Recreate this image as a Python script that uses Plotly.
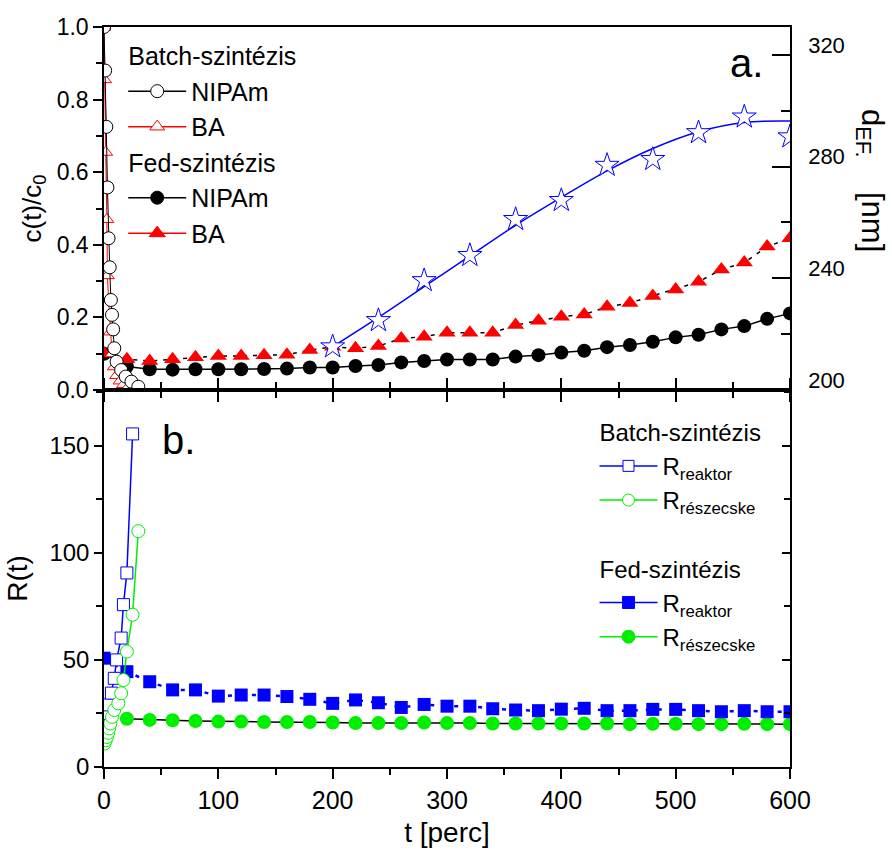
import plotly.graph_objects as go

# ---------------- top panel data ----------------
t_batch_nipam = [0, 1, 2, 3, 4, 5, 6, 7, 8, 9, 11, 15, 19, 24, 30]
c_batch_nipam = [1.0, 0.88, 0.725, 0.558, 0.418, 0.338, 0.248, 0.207, 0.167, 0.115, 0.078, 0.055, 0.037, 0.023, 0.009]

t_batch_ba = [0, 0.5, 1.5, 2.5, 3, 4, 5.5, 7, 9, 11, 14, 17, 21, 26, 31]
c_batch_ba = [1.0, 0.855, 0.655, 0.47, 0.315, 0.25, 0.16, 0.10, 0.064, 0.04, 0.025, 0.015, 0.008, 0.004, 0.0]

t_fed = [0, 20, 40, 60, 80, 100, 120, 140, 160, 180, 200, 220, 240, 260, 280, 300,
         320, 340, 360, 380, 400, 420, 440, 460, 480, 500, 520, 540, 560, 580, 600]
c_fed_nipam = [0.10, 0.065, 0.057, 0.056, 0.057, 0.057, 0.057, 0.058, 0.059, 0.062, 0.062,
               0.066, 0.069, 0.076, 0.080, 0.084, 0.084, 0.084, 0.092, 0.096, 0.103,
               0.108, 0.118, 0.124, 0.133, 0.145, 0.152, 0.167, 0.176, 0.196, 0.211]
c_fed_ba = [0.101, 0.085, 0.080, 0.085, 0.090, 0.094, 0.094, 0.096, 0.097, 0.110, 0.119,
            0.115, 0.121, 0.142, 0.147, 0.158, 0.158, 0.158, 0.179, 0.191, 0.202,
            0.208, 0.229, 0.240, 0.259, 0.277, 0.298, 0.332, 0.351, 0.395, 0.418]

t_def = [200, 240, 280, 320, 360, 400, 440, 480, 520, 560, 600]
d_ef = [215.5, 224.9, 239.2, 248.2, 261.1, 267.9, 280.5, 282.6, 292.2, 297.8, 290.7]
t_def_fit = [200, 240, 280, 320, 360, 400, 440, 480, 520, 560, 600]
d_ef_fit = [215.5, 226.0, 237.0, 248.0, 259.0, 269.0, 278.5, 286.5, 292.5, 295.8, 296.3]

# ---------------- bottom panel data ----------------
t_batch_reaktor = [0, 1, 2.5, 4, 6.5, 9, 11, 15, 17, 20, 25]
r_batch_reaktor = [18, 22, 25, 29, 34.5, 41.4, 50, 60.2, 75.8, 90.6, 155.5]

t_batch_reszecske = [0.5, 1.5, 2.5, 3.5, 4.5, 5.5, 7, 9, 12.5, 15, 17, 20, 25, 30]
r_batch_reszecske = [11, 12.5, 14, 16, 18, 20.3, 23.4, 26.6, 29.7, 34.4, 40.6, 53.9, 71.1, 110.1]

t_fed_reaktor = t_fed
r_fed_reaktor = [50.8, 44.5, 39.8, 36.0, 36.0, 33.1, 33.6, 33.6, 32.9, 31.6, 29.7, 31.3, 30.0,
                 27.8, 29.2, 28.4, 28.4, 27.2, 26.6, 26.3, 27.0, 27.4, 26.3, 26.3, 26.9,
                 26.9, 26.3, 25.8, 26.3, 25.8, 25.8]

t_fed_reszecske = t_fed[1:]
r_fed_reszecske = [22.5, 22.0, 21.8, 21.5, 21.2, 21.2, 21.0, 21.0, 21.0, 20.8, 20.5, 20.5,
                   20.5, 20.8, 20.5, 20.5, 20.3, 20.3, 20.3, 20.3, 20.3, 20.3, 20.0, 20.2,
                   20.2, 20.0, 20.0, 20.2, 20.0, 20.0]

# ---------------- style ----------------
FONT = "Liberation Sans, Arial, sans-serif"
BLUE = "#0000ff"
RED = "#ff0000"
GREEN = "#00ee00"
BLACK = "#000000"

fig = go.Figure()

# top panel traces
fig.add_trace(go.Scatter(x=t_fed, y=c_fed_nipam, mode="lines+markers", showlegend=False,
                         line=dict(color=BLACK, width=1.5),
                         marker=dict(symbol="circle", size=14, color=BLACK),
                         xaxis="x", yaxis="y"))
fig.add_trace(go.Scatter(x=t_fed, y=c_fed_ba, mode="lines+markers", showlegend=False,
                         line=dict(color=BLACK, width=1.5, dash="4px,6px"),
                         marker=dict(symbol="triangle-up", size=15, color=RED),
                         xaxis="x", yaxis="y"))
fig.add_trace(go.Scatter(x=t_batch_ba, y=c_batch_ba, mode="lines+markers", showlegend=False,
                         line=dict(color=RED, width=1),
                         marker=dict(symbol="triangle-up", size=12, color="white",
                                     line=dict(color=RED, width=1)),
                         xaxis="x", yaxis="y"))
fig.add_trace(go.Scatter(x=t_batch_nipam, y=c_batch_nipam, mode="lines+markers", showlegend=False,
                         line=dict(color=BLACK, width=1),
                         marker=dict(symbol="circle", size=13, color="white",
                                     line=dict(color=BLACK, width=1)),
                         xaxis="x", yaxis="y"))
fig.add_trace(go.Scatter(x=t_def_fit, y=d_ef_fit, mode="lines", showlegend=False,
                         line=dict(color=BLUE, width=1.5, shape="spline"),
                         xaxis="x", yaxis="y2"))
fig.add_trace(go.Scatter(x=t_def, y=d_ef, mode="markers", showlegend=False,
                         marker=dict(symbol="star", size=18, color="white",
                                     line=dict(color=BLUE, width=1)),
                         xaxis="x", yaxis="y2"))

# bottom panel traces
fig.add_trace(go.Scatter(x=t_fed_reszecske, y=r_fed_reszecske, mode="lines+markers", showlegend=False,
                         line=dict(color=BLACK, width=1.5),
                         marker=dict(symbol="circle", size=14, color=GREEN),
                         xaxis="x2", yaxis="y3"))
fig.add_trace(go.Scatter(x=t_fed_reaktor, y=r_fed_reaktor, mode="lines+markers", showlegend=False,
                         line=dict(color=BLUE, width=2.5, dash="4px,8px"),
                         marker=dict(symbol="square", size=13, color=BLUE),
                         xaxis="x2", yaxis="y3"))
fig.add_trace(go.Scatter(x=t_batch_reaktor, y=r_batch_reaktor, mode="lines+markers", showlegend=False,
                         line=dict(color=BLUE, width=1.5),
                         marker=dict(symbol="square", size=12, color="white",
                                     line=dict(color=BLUE, width=1)),
                         xaxis="x2", yaxis="y3"))
fig.add_trace(go.Scatter(x=t_batch_reszecske, y=r_batch_reszecske, mode="lines+markers", showlegend=False,
                         line=dict(color=GREEN, width=1.5),
                         marker=dict(symbol="circle", size=13, color="white",
                                     line=dict(color=GREEN, width=1)),
                         xaxis="x2", yaxis="y3"))

# legend proxies
def proxy(name, color, symbol, fill, group, gtitle, legend, xa, ya, fsize):
    fig.add_trace(go.Scatter(
        x=[None], y=[None], mode="lines+markers", name=name,
        line=dict(color=color, width=1.5),
        marker=dict(symbol=symbol, size=fsize, color=fill, line=dict(color=color, width=1)),
        legendgroup=group, legendgrouptitle=dict(text=gtitle),
        legend=legend, xaxis=xa, yaxis=ya))

proxy("NIPAm", BLACK, "circle", "white", "b", "Batch-szintézis", "legend", "x", "y", 13)
proxy("BA", RED, "triangle-up", "white", "b", "Batch-szintézis", "legend", "x", "y", 13)
proxy("NIPAm", BLACK, "circle", BLACK, "f", "Fed-szintézis", "legend", "x", "y", 13)
proxy("BA", RED, "triangle-up", RED, "f", "Fed-szintézis", "legend", "x", "y", 14)

proxy("R<sub>reaktor</sub>", BLUE, "square", "white", "b2", "Batch-szintézis", "legend2", "x2", "y4", 11)
proxy("R<sub>részecske</sub>", GREEN, "circle", "white", "b2", "Batch-szintézis", "legend2", "x2", "y4", 12)
proxy("R<sub>reaktor</sub>", BLUE, "square", BLUE, "f2", "Fed-szintézis", "legend2", "x2", "y4", 12)
proxy("R<sub>részecske</sub>", GREEN, "circle", GREEN, "f2", "Fed-szintézis", "legend2", "x2", "y4", 13)

SPLIT = 377 / 740

axis_common = dict(showgrid=False, zeroline=False, showline=True, linecolor=BLACK,
                   linewidth=1.5, tickcolor=BLACK, tickwidth=1.5)

fig.update_layout(
    width=892, height=855,
    margin=dict(l=104, r=102, t=27, b=88),
    paper_bgcolor="white", plot_bgcolor="white",
    font=dict(family=FONT, color=BLACK, size=22),
    xaxis=dict(domain=[0, 1], anchor="y", range=[0, 600], showticklabels=False,
               ticks="outside", ticklen=10, dtick=100, tick0=0, mirror=True,
               minor=dict(dtick=50, ticklen=6, ticks="outside", tickcolor=BLACK, tickwidth=1.5),
               **axis_common),
    yaxis=dict(domain=[SPLIT, 1], anchor="x", range=[0, 1.0], dtick=0.2, tick0=0,
               tickformat=".1f", ticks="outside", ticklen=9,
               tickfont=dict(size=23),
               minor=dict(dtick=0.1, ticklen=6, ticks="outside", tickcolor=BLACK, tickwidth=1.5),
               title=dict(text="c(t)/c<sub>0</sub>", font=dict(size=26), standoff=8),
               **axis_common),
    yaxis2=dict(overlaying="y", side="right", anchor="x", range=[200, 330], dtick=40, tick0=200,
                ticks="inside", ticklen=18, ticklabelshift=-10, ticklabelstandoff=12,
                tickfont=dict(size=22),
                minor=dict(dtick=20, ticklen=9, ticks="inside", tickcolor=BLACK, tickwidth=1.5),
                **axis_common),
    xaxis2=dict(domain=[0, 1], anchor="y3", range=[0, 600], dtick=100, tick0=0,
                ticks="outside", ticklen=10, mirror="ticks", tickfont=dict(size=25),
                minor=dict(dtick=50, ticklen=6, ticks="outside", tickcolor=BLACK, tickwidth=1.5),
                title=dict(text="t [perc]", font=dict(size=28), standoff=10),
                **axis_common),
    yaxis3=dict(domain=[0, SPLIT], anchor="x2", range=[0, 176], dtick=50, tick0=0,
                ticks="outside", ticklen=8, tickfont=dict(size=24),
                minor=dict(dtick=25, ticklen=6, ticks="outside", tickcolor=BLACK, tickwidth=1.5),
                title=dict(text="R(t)", font=dict(size=28), standoff=14),
                **axis_common),
    yaxis4=dict(overlaying="y3", side="right", anchor="x2", range=[0, 176], dtick=50, tick0=0,
                ticks="inside", ticklen=8, showticklabels=False,
                minor=dict(dtick=25, ticklen=6, ticks="inside", tickcolor=BLACK, tickwidth=1.5),
                **axis_common),
    legend=dict(x=0.028, y=0.992, xanchor="left", yanchor="top", bgcolor="rgba(0,0,0,0)",
                font=dict(size=25), grouptitlefont=dict(size=25), tracegroupgap=0,
                traceorder="grouped", itemwidth=58),
    legend2=dict(x=0.715, y=0.483, xanchor="left", yanchor="top", bgcolor="rgba(0,0,0,0)",
                 font=dict(size=24), grouptitlefont=dict(size=24), tracegroupgap=34,
                 traceorder="grouped", itemwidth=58),
    annotations=[
        dict(text="a.", xref="paper", yref="paper", x=0.937, y=0.952, showarrow=False,
             font=dict(size=40), xanchor="center", yanchor="middle"),
        dict(text="b.", xref="paper", yref="paper", x=0.108, y=0.442, showarrow=False,
             font=dict(size=40), xanchor="center", yanchor="middle"),
        dict(text="d<sub>EF.</sub>    [nm]", xref="paper", yref="paper", x=1.117, y=0.793,
             showarrow=False, textangle=90, font=dict(size=31),
             xanchor="center", yanchor="middle"),
    ],
)

fig.write_html("out.html")
